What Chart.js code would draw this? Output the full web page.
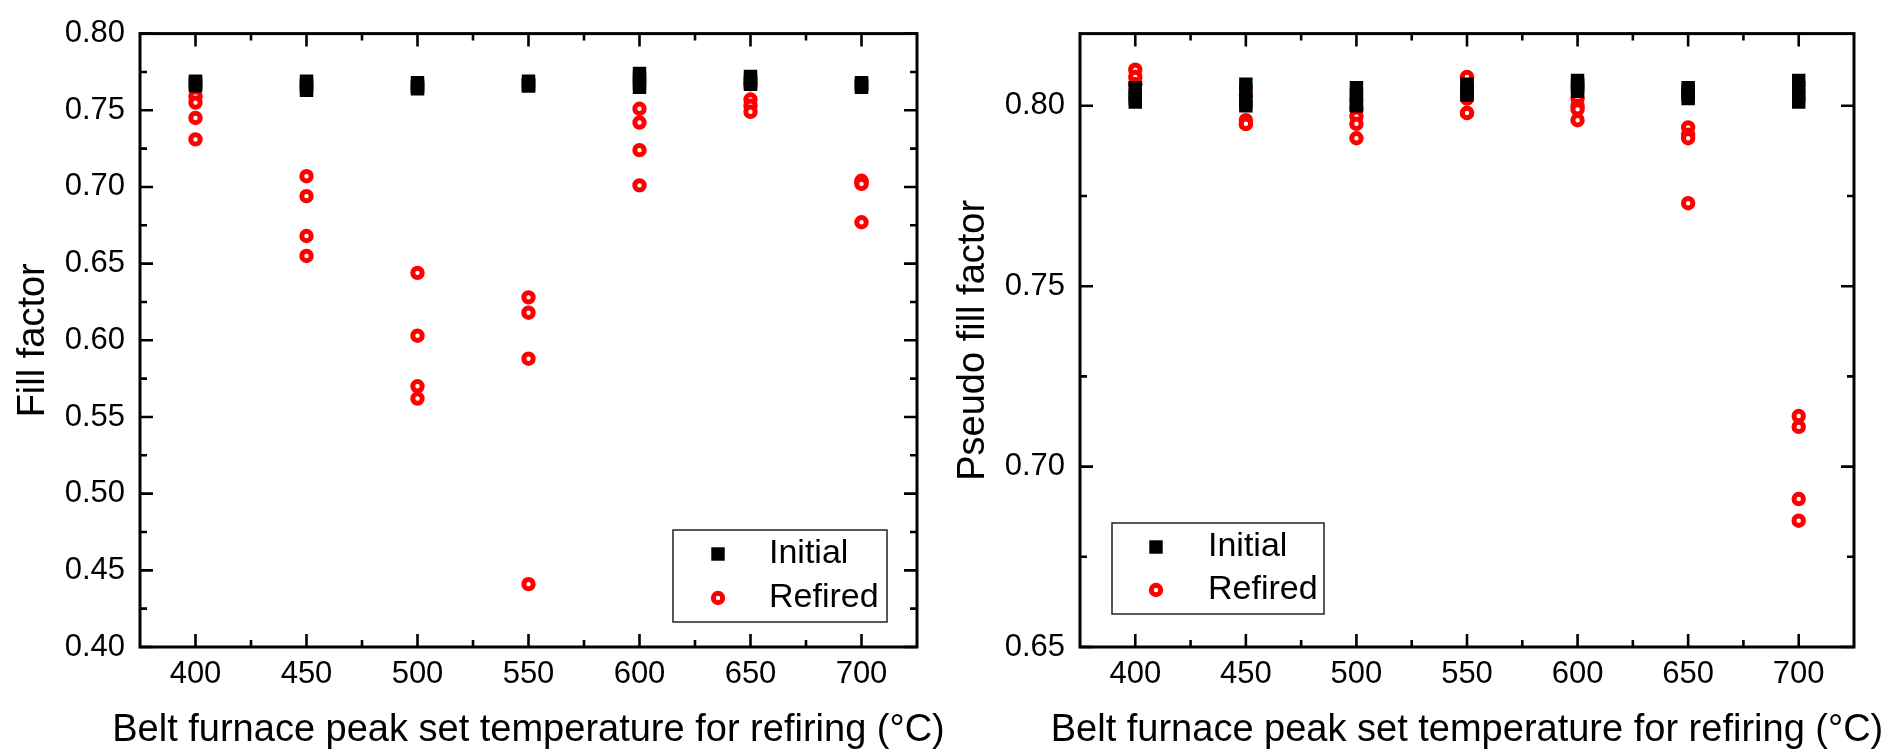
<!DOCTYPE html>
<html>
<head>
<meta charset="utf-8">
<script src="https://cdn.jsdelivr.net/npm/chart.js@4.4.0/dist/chart.umd.min.js"></script>
<style>
  html, body { margin: 0; padding: 0; background: #fff; width: 1893px; height: 753px; overflow: hidden; }
  #ffChart { position: absolute; left: 0; top: 0; z-index: 1; }
  #pffChart { position: absolute; left: 940px; top: 0; z-index: 2; }
</style>
</head>
<body>
<canvas id="ffChart" width="960" height="753"></canvas>
<canvas id="pffChart" width="953" height="753"></canvas>
<script>
// Refiring peak set temperatures (°C); four cells measured at each temperature
const temperatures = [400, 450, 500, 550, 600, 650, 700];

// Axis ticks
const xTickValues = [400, 450, 500, 550, 600, 650, 700];
const xMinorTicks = [425, 475, 525, 575, 625, 675];
const ffTickValues = [0.40, 0.45, 0.50, 0.55, 0.60, 0.65, 0.70, 0.75, 0.80];
const ffMinorTicks = [0.425, 0.475, 0.525, 0.575, 0.625, 0.675, 0.725, 0.775];
const pffTickValues = [0.65, 0.70, 0.75, 0.80];
const pffMinorTicks = [0.675, 0.725, 0.775];

const xTitle = 'Belt furnace peak set temperature for refiring (°C)';

// Fill factor, one group of four cells per temperature
const ffInitial = [
  [0.769, 0.768, 0.767, 0.766],
  [0.769, 0.767, 0.765, 0.763],
  [0.768, 0.766, 0.765, 0.764],
  [0.769, 0.767, 0.766, 0.766],
  [0.774, 0.771, 0.768, 0.765],
  [0.772, 0.770, 0.768, 0.767],
  [0.768, 0.767, 0.766, 0.765]
];
const ffRefired = [
  [0.759, 0.755, 0.745, 0.731],
  [0.707, 0.694, 0.668, 0.655],
  [0.644, 0.603, 0.570, 0.562],
  [0.628, 0.618, 0.588, 0.441],
  [0.751, 0.742, 0.724, 0.701],
  [0.767, 0.757, 0.753, 0.749],
  [0.704, 0.703, 0.702, 0.677]
];

// Pseudo fill factor
const pffInitial = [
  [0.805, 0.803, 0.802, 0.801],
  [0.806, 0.804, 0.801, 0.800],
  [0.805, 0.803, 0.801, 0.800],
  [0.806, 0.805, 0.804, 0.803],
  [0.807, 0.806, 0.805, 0.804],
  [0.805, 0.804, 0.803, 0.802],
  [0.807, 0.805, 0.803, 0.801]
];
const pffRefired = [
  [0.810, 0.808, 0.806, 0.806],
  [0.803, 0.796, 0.795, 0.795],
  [0.799, 0.797, 0.795, 0.791],
  [0.808, 0.802, 0.798, 0.798],
  [0.802, 0.800, 0.799, 0.796],
  [0.794, 0.792, 0.791, 0.773],
  [0.714, 0.711, 0.691, 0.685]
];

const FONT = "'Liberation Sans', Arial, Helvetica, sans-serif";
Chart.defaults.font.family = FONT;
Chart.defaults.color = '#000';

function toPoints(groups) {
  return temperatures.flatMap((t, i) => groups[i].map(v => ({ x: t, y: v })));
}

// Closed frame with inward major/minor ticks on all four sides
const frameTicks = {
  id: 'frameTicks',
  afterDatasetsDraw(chart, args, opts) {
    const { ctx, chartArea: a, scales: { x, y } } = chart;
    ctx.save();
    ctx.strokeStyle = '#000';
    ctx.lineCap = 'butt';
    ctx.lineWidth = 2.6;
    ctx.beginPath();
    const xt = (vals, len) => vals.forEach(v => {
      const px = x.getPixelForValue(v);
      ctx.moveTo(px, a.bottom); ctx.lineTo(px, a.bottom - len);
      ctx.moveTo(px, a.top); ctx.lineTo(px, a.top + len);
    });
    const yt = (vals, len) => vals.forEach(v => {
      const py = y.getPixelForValue(v);
      ctx.moveTo(a.left, py); ctx.lineTo(a.left + len, py);
      ctx.moveTo(a.right, py); ctx.lineTo(a.right - len, py);
    });
    xt(opts.xMajor, 13); xt(opts.xMinor, 7);
    yt(opts.yMajor, 13); yt(opts.yMinor, 7);
    ctx.stroke();
    ctx.lineWidth = 3;
    ctx.strokeRect(a.left, a.top, a.right - a.left, a.bottom - a.top);
    ctx.restore();
  }
};

// Horizontal axis title, centred under the plot at its natural width
const bottomTitle = {
  id: 'bottomTitle',
  afterDraw(chart, args, opts) {
    const { ctx, chartArea: a } = chart;
    ctx.save();
    ctx.fillStyle = '#000';
    ctx.font = opts.fontSize + 'px ' + FONT;
    ctx.textAlign = 'center';
    ctx.textBaseline = 'middle';
    ctx.fillText(opts.text, (a.left + a.right) / 2, opts.y);
    ctx.restore();
  }
};

// Boxed legend placed inside the plot
const boxLegend = {
  id: 'boxLegend',
  afterDraw(chart, args, opts) {
    const { ctx } = chart;
    ctx.save();
    ctx.strokeStyle = '#222';
    ctx.lineWidth = 1.5;
    ctx.strokeRect(opts.left, opts.top, opts.width, opts.height);
    chart.data.datasets.forEach((ds, i) => {
      const cy = opts.top + opts.rows[i];
      const cx = opts.left + opts.markerX;
      ctx.fillStyle = ds.pointBackgroundColor;
      ctx.strokeStyle = ds.pointBorderColor;
      ctx.lineWidth = ds.pointBorderWidth;
      Chart.helpers.drawPoint(ctx, {
        pointStyle: ds.pointStyle, rotation: 0,
        radius: ds.pointRadius, borderWidth: ds.pointBorderWidth
      }, cx, cy);
      ctx.fillStyle = '#000';
      ctx.font = opts.fontSize + 'px ' + FONT;
      ctx.textBaseline = 'middle';
      ctx.textAlign = 'left';
      ctx.fillText(ds.label, opts.left + opts.textX, cy);
    });
    ctx.restore();
  }
};

function makeChart(canvas, cfg) {
  return new Chart(canvas, {
    type: 'scatter',
    data: {
      datasets: [
        {
          label: 'Initial', data: toPoints(cfg.initial),
          pointStyle: 'rect', pointRadius: 9.5, pointHoverRadius: 9.5,
          pointBackgroundColor: '#000', pointBorderColor: '#000', pointBorderWidth: 0
        },
        {
          label: 'Refired', data: toPoints(cfg.refired),
          pointStyle: 'circle', pointRadius: 4.7, pointHoverRadius: 4.7,
          pointBackgroundColor: '#fff', pointBorderColor: '#ff0000', pointBorderWidth: 5
        }
      ]
    },
    options: {
      responsive: false,
      animation: false,
      devicePixelRatio: 1,
      events: [],
      layout: { padding: cfg.padding },
      plugins: {
        legend: { display: false },
        tooltip: { enabled: false },
        frameTicks: { xMajor: xTickValues, xMinor: xMinorTicks, yMajor: cfg.yTicks, yMinor: cfg.yMinor },
        bottomTitle: { text: xTitle, fontSize: 38, y: 731 },
        boxLegend: cfg.legend
      },
      scales: {
        x: {
          type: 'linear', min: 375, max: 725,
          afterBuildTicks: s => { s.ticks = xTickValues.map(v => ({ value: v })); },
          afterFit: s => { s.height = 106; },
          grid: { display: false, drawTicks: false },
          border: { display: false },
          ticks: { font: { size: 31 }, padding: 9, color: '#000', maxRotation: 0, autoSkip: false, callback: v => String(v) },
          title: { display: false }
        },
        y: {
          type: 'linear', min: cfg.yMin, max: cfg.yMax,
          afterBuildTicks: s => { s.ticks = cfg.yTicks.map(v => ({ value: v })); },
          afterFit: s => { s.width = 140; },
          grid: { display: false, drawTicks: false },
          border: { display: false },
          ticks: { font: { size: 31 }, padding: 15, color: '#000', autoSkip: false, callback: v => Number(v).toFixed(2) },
          title: { display: true, text: cfg.yTitle, font: { size: 38 }, color: '#000', padding: { top: 11, bottom: 0 } }
        }
      }
    },
    plugins: [frameTicks, bottomTitle, boxLegend]
  });
}

makeChart(document.getElementById('ffChart'), {
  initial: ffInitial, refired: ffRefired,
  yMin: 0.40, yMax: 0.80, yTicks: ffTickValues, yMinor: ffMinorTicks,
  yTitle: 'Fill factor',
  padding: { left: 0, top: 22, right: 43, bottom: 0 },
  legend: { left: 673, top: 530, width: 214, height: 92, markerX: 45, textX: 96, rows: [24, 68], fontSize: 34 }
});

makeChart(document.getElementById('pffChart'), {
  initial: pffInitial, refired: pffRefired,
  yMin: 0.65, yMax: 0.82, yTicks: pffTickValues, yMinor: pffMinorTicks,
  yTitle: 'Pseudo fill factor',
  padding: { left: 0, top: 23, right: 39, bottom: 0 },
  legend: { left: 172, top: 523, width: 212, height: 91, markerX: 44, textX: 96, rows: [24, 67], fontSize: 34 }
});
</script>
</body>
</html>
